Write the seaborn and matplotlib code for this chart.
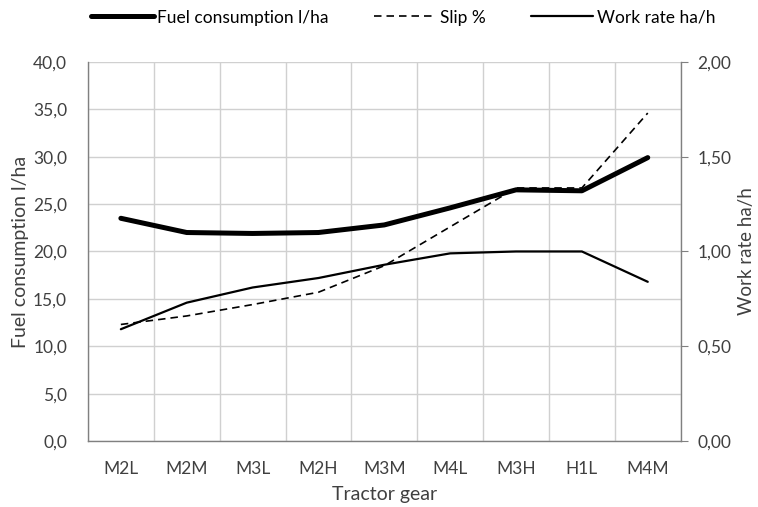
import numpy as np
import pandas as pd
import matplotlib
matplotlib.use("Agg")
import matplotlib.pyplot as plt
import seaborn as sns
from matplotlib.ticker import FuncFormatter, MultipleLocator, FixedLocator
from matplotlib.lines import Line2D

# data
gears = ['M2L', 'M2M', 'M3L', 'M2H', 'M3M', 'M4L', 'M3H', 'H1L', 'M4M']
fuel = [23.5, 22.0, 21.9, 22.0, 22.8, 24.6, 26.5, 26.4, 29.9]
slip = [12.3, 13.2, 14.4, 15.7, 18.5, 22.6, 26.7, 26.7, 34.6]
work_rate = [0.59, 0.73, 0.81, 0.86, 0.93, 0.99, 1.00, 1.00, 0.84]

df = pd.DataFrame({'gear': gears, 'fuel': fuel, 'slip': slip, 'work': work_rate})
df['pos'] = np.arange(len(gears))

sns.set_style("white")
plt.rcParams['font.family'] = ['Lato', 'DejaVu Sans']

fig = plt.figure(figsize=(7.58, 5.07), dpi=100)
ax = fig.add_axes([0.116, 0.130, 0.782, 0.748])
ax2 = ax.twinx()

dash = (0, (4.5, 3))
sns.lineplot(data=df, x='pos', y='fuel', ax=ax, color='black', linewidth=3.6,
             solid_capstyle='round', zorder=3)
sns.lineplot(data=df, x='pos', y='slip', ax=ax, color='black', linewidth=1.2,
             linestyle=dash, zorder=2)
sns.lineplot(data=df, x='pos', y='work', ax=ax2, color='black', linewidth=1.6, zorder=2)

ax.set_xlim(-0.5, len(gears) - 0.5)
ax.set_ylim(0, 40)
ax2.set_ylim(0, 2)

ax.yaxis.set_major_locator(MultipleLocator(5))
ax.yaxis.set_major_formatter(FuncFormatter(lambda v, p: f"{v:.1f}".replace('.', ',')))
ax2.yaxis.set_major_locator(MultipleLocator(0.5))
ax2.yaxis.set_major_formatter(FuncFormatter(lambda v, p: f"{v:.2f}".replace('.', ',')))

ax.set_xticks(df['pos'])
ax.set_xticklabels(gears)
ax.xaxis.set_minor_locator(FixedLocator(np.arange(-0.5, len(gears), 1)))

ax.grid(False)
ax.grid(axis='y', which='major', color='#d0d0d0', linewidth=1)
ax.grid(axis='x', which='minor', color='#d0d0d0', linewidth=1)
ax.set_axisbelow(True)

ax.spines['top'].set_visible(False)
ax2.spines['top'].set_visible(False)
ax2.spines['left'].set_visible(False)
ax2.spines['bottom'].set_visible(False)
ax.spines['right'].set_visible(False)
for s in ['left', 'bottom']:
    ax.spines[s].set_color('#808080')
    ax.spines[s].set_linewidth(1)
ax2.spines['right'].set_color('#808080')
ax2.spines['right'].set_linewidth(1)

ax.tick_params(axis='both', which='both', length=0, labelsize=12.5, colors='#404040')
ax.tick_params(axis='y', pad=15)
ax.tick_params(axis='x', pad=14)
ax2.tick_params(axis='y', length=5, color='#808080', labelsize=12.5, labelcolor='#404040', pad=7)

ax.set_xlabel('Tractor gear', fontsize=14, color='#404040', labelpad=7)
ax.set_ylabel('Fuel consumption l/ha', fontsize=14, color='#404040', labelpad=3)
ax2.set_ylabel('Work rate ha/h', fontsize=13.5, color='#404040', labelpad=5)

handles = [Line2D([], [], color='black', linewidth=3.6),
           Line2D([], [], color='black', linewidth=1.2, linestyle=dash),
           Line2D([], [], color='black', linewidth=1.6)]
labels = ['Fuel consumption l/ha', 'Slip %', 'Work rate ha/h']
fig.legend(handles, labels, loc='upper center', bbox_to_anchor=(0.532, 1.012), ncol=3,
           frameon=False, fontsize=12.5, handlelength=3.6, handletextpad=0.2,
           columnspacing=2.6, labelcolor='#000000')

fig.savefig('out.png', dpi=100)
